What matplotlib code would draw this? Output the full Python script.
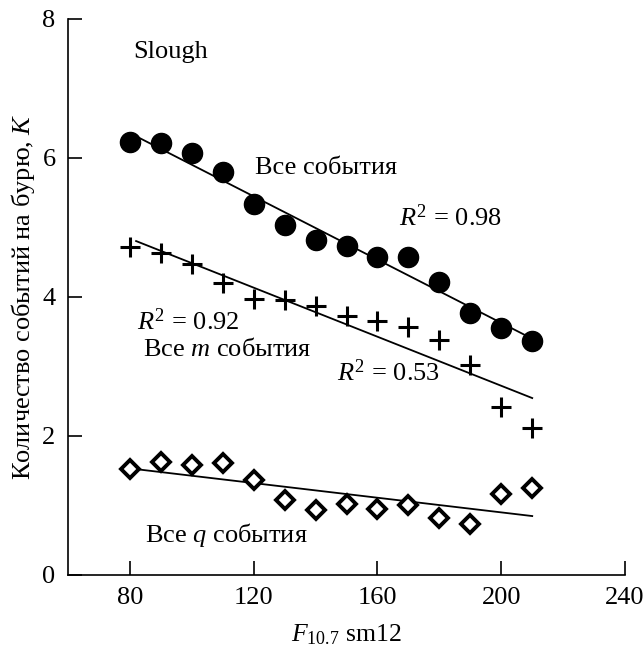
import numpy as np
import matplotlib
matplotlib.use('Agg')
import matplotlib.pyplot as plt

plt.rcParams['font.family'] = ['Liberation Serif', 'DejaVu Serif']
plt.rcParams['mathtext.fontset'] = 'custom'
plt.rcParams['mathtext.rm'] = 'Liberation Serif'
plt.rcParams['mathtext.it'] = 'Liberation Serif:italic'

# F10.7 sm12
f107 = [80, 90, 100, 110, 120, 130, 140, 150, 160, 170, 180, 190, 200, 210]
# all events (circles)
k_all = [6.23, 6.22, 6.07, 5.80, 5.34, 5.03, 4.82, 4.73, 4.58, 4.57, 4.21, 3.77, 3.56, 3.37]
# all m events (crosses)
k_m = [4.72, 4.63, 4.48, 4.20, 3.97, 3.96, 3.87, 3.73, 3.65, 3.57, 3.38, 3.02, 2.41, 2.11]
# all q events (diamonds)
k_q = [1.53, 1.62, 1.58, 1.61, 1.37, 1.08, 0.94, 1.02, 0.95, 1.01, 0.82, 0.73, 1.16, 1.25]
fit_range = [82, 210]

fig = plt.figure(figsize=(6.44, 6.50), dpi=100)
ax = fig.add_axes([0.1056, 0.1154, 0.865, 0.8554])

x = np.array(f107)
xf = np.array(fit_range)
for y in (k_all, k_m, k_q):
    p = np.polyfit(x, y, 1)
    ax.plot(xf, np.polyval(p, xf), c='k', lw=1.3, zorder=2)

ax.plot(x, k_all, 'o', ms=14.5, c='k', zorder=3)
ax.plot(x, k_m, '+', ms=15, mew=2.2, c='k', zorder=3)
ax.plot(x, k_q, 'D', ms=9.5, mew=2.8, mfc='white', mec='k', zorder=3)

fs = 19
ax.text(81, 7.53, 'Slough', fontsize=fs, va='center')
ax.text(120.3, 5.86, 'Все события', fontsize=fs, va='center')
ax.text(167, 5.14, '$R^2$ = 0.98', fontsize=fs, va='center')
ax.text(82.3, 3.64, '$R^2$ = 0.92', fontsize=fs, va='center')
ax.text(84.2, 3.24, 'Все $m$ события', fontsize=fs, va='center')
ax.text(147, 2.91, '$R^2$ = 0.53', fontsize=fs, va='center')
ax.text(84.8, 0.58, 'Все $q$ события', fontsize=fs, va='center')

ax.set_xlim(60, 240)
ax.set_ylim(0, 8)
ax.set_xticks([80, 120, 160, 200, 240])
ax.set_yticks([0, 2, 4, 6, 8])
ax.spines['top'].set_visible(False)
ax.spines['right'].set_visible(False)
for s in ('left', 'bottom'):
    ax.spines[s].set_linewidth(1.2)
ax.tick_params(direction='in', length=10, width=1.2, labelsize=fs, pad=9)
ax.set_xlabel('$F_{10.7}$ sm12', fontsize=18.5, labelpad=9)
ax.set_ylabel('Количество событий на бурю, $K$', fontsize=fs, labelpad=4)

fig.savefig('out.png', dpi=100)
